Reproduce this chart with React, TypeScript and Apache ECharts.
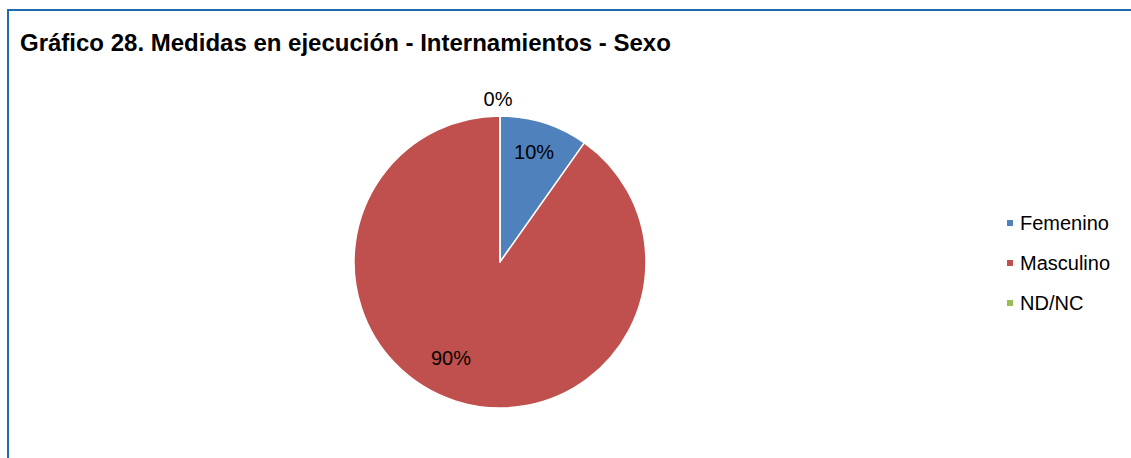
import React, { useEffect, useRef } from "react";
import * as echarts from "echarts";

const titleText = "Gráfico 28. Medidas en ejecución - Internamientos - Sexo";
const categories = ["Femenino", "Masculino", "ND/NC"];
const values = [5, 46, 0];
const colors = ["#4F81BD", "#C0504D", "#9BBB59"];
const labelOffsets: [number, number][] = [[11, -38], [-26, 24], [-2, -87]];

export default function App() {
  const ref = useRef<HTMLDivElement>(null);
  useEffect(() => {
    if (!ref.current) return;
    const chart = echarts.init(ref.current, null, { renderer: "svg" });
    const font = "'Liberation Sans', Arial, sans-serif";
    chart.setOption({
      animation: false,
      backgroundColor: "#ffffff",
      title: {
        text: titleText,
        left: 20,
        top: 30,
        padding: 0,
        textStyle: { fontFamily: font, fontSize: 24, fontWeight: "bold", color: "#000" },
      },
      legend: {
        orient: "vertical",
        left: 1005,
        top: 213,
        padding: 0,
        icon: "rect",
        itemWidth: 8,
        itemHeight: 8,
        itemGap: 20,
        data: categories,
        textStyle: { fontFamily: font, fontSize: 20, color: "#000", padding: [0, 0, 0, 1] },
      },
      graphic: [
        {
          type: "rect",
          shape: { x: 8, y: 10, width: 1200, height: 500 },
          style: { fill: "none", stroke: "#1F6BB0", lineWidth: 2 },
          silent: true,
        },
      ],
      series: [
        {
          type: "pie",
          center: [500, 262],
          radius: 146,
          startAngle: 90,
          clockwise: true,
          avoidLabelOverlap: false,
          stillShowZeroSum: true,
          itemStyle: { borderColor: "#ffffff", borderWidth: 1.5 },
          label: {
            show: true,
            position: "inside",
            fontFamily: font,
            fontSize: 20,
            color: "#000",
            formatter: (p: any) => Math.round(p.percent) + "%",
          },
          labelLine: { show: false },
          emphasis: { disabled: true },
          data: categories.map((name, i) => ({
            name,
            value: values[i],
            itemStyle: { color: colors[i] },
            label: { offset: labelOffsets[i] },
          })),
        },
      ],
    });
    return () => chart.dispose();
  }, []);
  return (
    <div
      ref={ref}
      style={{ position: "absolute", left: 0, top: 0, width: 1131, height: 458 }}
    />
  );
}
